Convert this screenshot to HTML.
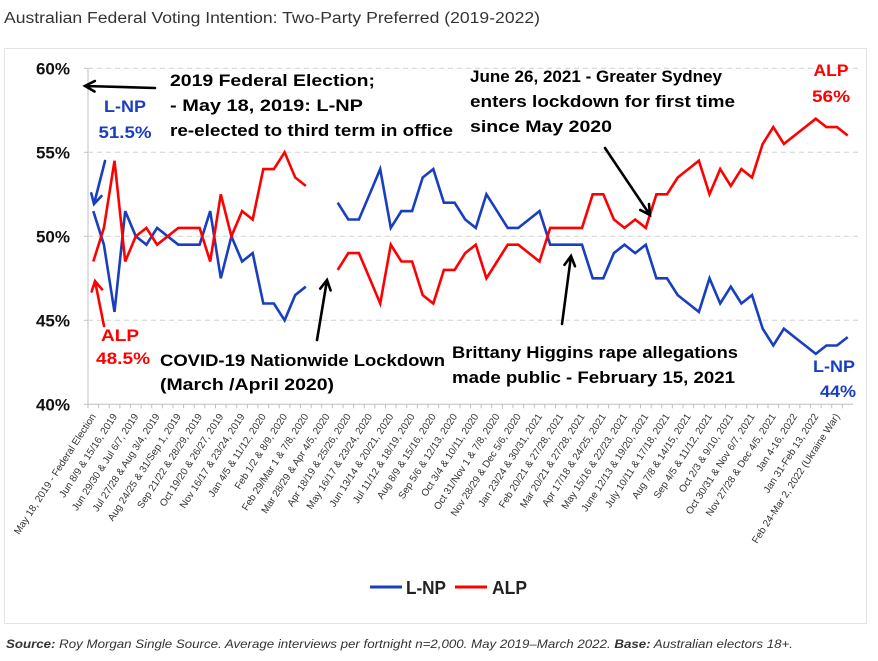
<!DOCTYPE html>
<html><head><meta charset="utf-8"><style>
html,body{margin:0;padding:0;background:#fff}
svg{display:block;font-family:"Liberation Sans",sans-serif}
</style></head><body>
<svg id="chart" width="878" height="661" viewBox="0 0 878 661">
<text x="4" y="23" font-size="15.5" fill="#333" textLength="536" lengthAdjust="spacingAndGlyphs">Australian Federal Voting Intention: Two-Party Preferred (2019-2022)</text>
<rect x="4.5" y="48.5" width="862" height="575" fill="none" stroke="#e3e3e3"/>
<g id="grid"></g>
<g id="xaxis"></g>
<g id="series"></g>
<g id="arrows"></g>
<g font-weight="bold" font-size="17">
<text x="170" y="86" textLength="205" lengthAdjust="spacingAndGlyphs">2019 Federal Election;</text>
<text x="170" y="111" textLength="193" lengthAdjust="spacingAndGlyphs">- May 18, 2019: L-NP</text>
<text x="170" y="136" textLength="283" lengthAdjust="spacingAndGlyphs">re-elected to third term in office</text>
<text x="125" y="112" fill="#1a3ec0" text-anchor="middle" textLength="42" lengthAdjust="spacingAndGlyphs">L-NP</text>
<text x="125" y="138" fill="#1a3ec0" text-anchor="middle" textLength="53" lengthAdjust="spacingAndGlyphs">51.5%</text>
<text x="120" y="341" fill="#ff0000" text-anchor="middle" textLength="38" lengthAdjust="spacingAndGlyphs">ALP</text>
<text x="123" y="364" fill="#ff0000" text-anchor="middle" textLength="54" lengthAdjust="spacingAndGlyphs">48.5%</text>
<text x="160" y="366" textLength="285" lengthAdjust="spacingAndGlyphs">COVID-19 Nationwide Lockdown</text>
<text x="160" y="390" textLength="174" lengthAdjust="spacingAndGlyphs">(March /April 2020)</text>
<text x="470" y="82" textLength="252" lengthAdjust="spacingAndGlyphs">June 26, 2021 - Greater Sydney</text>
<text x="470" y="107" textLength="265" lengthAdjust="spacingAndGlyphs">enters lockdown for first time</text>
<text x="470" y="132" textLength="142" lengthAdjust="spacingAndGlyphs">since May 2020</text>
<text x="452" y="358" textLength="286" lengthAdjust="spacingAndGlyphs">Brittany Higgins rape allegations</text>
<text x="452" y="383" textLength="283" lengthAdjust="spacingAndGlyphs">made public - February 15, 2021</text>
<text x="831" y="76" fill="#ff0000" text-anchor="middle" textLength="35" lengthAdjust="spacingAndGlyphs">ALP</text>
<text x="831" y="102" fill="#ff0000" text-anchor="middle" textLength="38" lengthAdjust="spacingAndGlyphs">56%</text>
<text x="834" y="372" fill="#1a3ec0" text-anchor="middle" textLength="42" lengthAdjust="spacingAndGlyphs">L-NP</text>
<text x="838" y="397" fill="#1a3ec0" text-anchor="middle" textLength="36" lengthAdjust="spacingAndGlyphs">44%</text>
</g>
<g font-weight="bold" font-size="18">
<g>
<line x1="370" y1="587" x2="402" y2="587" stroke="#1a3ec0" stroke-width="3"/>
<text x="406" y="594" fill="#222" textLength="40" lengthAdjust="spacingAndGlyphs">L-NP</text>
</g>
<g>
<line x1="455" y1="587" x2="487" y2="587" stroke="#ff0000" stroke-width="3"/>
<text x="492" y="594" fill="#222" textLength="35" lengthAdjust="spacingAndGlyphs">ALP</text>
</g>
</g>
<text x="6" y="648" font-size="12" font-style="italic" fill="#333" textLength="787" lengthAdjust="spacingAndGlyphs"><tspan font-weight="bold">Source:</tspan> Roy Morgan Single Source. Average interviews per fortnight n=2,000. May 2019–March 2022. <tspan font-weight="bold">Base:</tspan> Australian electors 18+.</text>
</svg>
<script>
const NS="http://www.w3.org/2000/svg";
const categories=["May 18, 2019 - Federal Election","","Jun 8/9 & 15/16, 2019","","Jun 29/30 & Jul 6/7, 2019","","Jul 27/28 & Aug 3/4, 2019","","Aug 24/25 & 31/Sep 1, 2019","","Sep 21/22 & 28/29, 2019","","Oct 19/20 & 26/27, 2019","","Nov 16/17 & 23/24, 2019","","Jan 4/5 & 11/12, 2020","","Feb 1/2 & 8/9, 2020","","Feb 29/Mar 1 & 7/8, 2020","","Mar 28/29 & Apr 4/5, 2020","","Apr 18/19 & 25/26, 2020","","May 16/17 & 23/24, 2020","","Jun 13/14 & 20/21, 2020","","Jul 11/12 & 18/19, 2020","","Aug 8/9 & 15/16, 2020","","Sep 5/6 & 12/13, 2020","","Oct 3/4 & 10/11, 2020","","Oct 31/Nov 1 & 7/8, 2020","","Nov 28/29 & Dec 5/6, 2020","","Jan 23/24 & 30/31, 2021","","Feb 20/21 & 27/28, 2021","","Mar 20/21 & 27/28, 2021","","Apr 17/18 & 24/25, 2021","","May 15/16 & 22/23, 2021","","June 12/13 & 19/20, 2021","","July 10/11 & 17/18, 2021","","Aug 7/8 & 14/15, 2021","","Sep 4/5 & 11/12, 2021","","Oct 2/3 & 9/10, 2021","","Oct 30/31 & Nov 6/7, 2021","","Nov 27/28 & Dec 4/5, 2021","","Jan 4-16, 2022","","Jan 31-Feb 13, 2022","","Feb 24-Mar 2, 2022 (Ukraine War)",""];
const lnpValues=[51.5,49.5,45.5,51.5,50,49.5,50.5,50,49.5,49.5,49.5,51.5,47.5,50,48.5,49,46,46,45,46.5,47,null,null,52,51,51,52.5,54,50.5,51.5,51.5,53.5,54,52,52,51,50.5,52.5,51.5,50.5,50.5,51,51.5,49.5,49.5,49.5,49.5,47.5,47.5,49,49.5,49,49.5,47.5,47.5,46.5,46,45.5,47.5,46,47,46,46.5,44.5,43.5,44.5,44,43.5,43,43.5,43.5,44];
const alpValues=[48.5,50.5,54.5,48.5,50,50.5,49.5,50,50.5,50.5,50.5,48.5,52.5,50,51.5,51,54,54,55,53.5,53,null,null,48,49,49,47.5,46,49.5,48.5,48.5,46.5,46,48,48,49,49.5,47.5,48.5,49.5,49.5,49,48.5,50.5,50.5,50.5,50.5,52.5,52.5,51,50.5,51,50.5,52.5,52.5,53.5,54,54.5,52.5,54,53,54,53.5,55.5,56.5,55.5,56,56.5,57,56.5,56.5,56];
const yTicks=[40,45,50,55,60];

const X0=93.3,DX=10.625,Y50=236.3,PPU=16.8;
const xPos=i=>X0+i*DX;
const yPos=v=>Y50-(v-50)*PPU;
function mk(tag,attrs,parent){const e=document.createElementNS(NS,tag);for(const k in attrs)e.setAttribute(k,attrs[k]);parent.appendChild(e);return e;}

const grid=document.getElementById('grid');
mk('line',{x1:88,y1:yPos(60),x2:88,y2:yPos(40),stroke:'#bfbfbf','stroke-width':1},grid);
yTicks.forEach(t=>{
  const y=yPos(t);
  if(t>40){const g=mk('line',{x1:88,y1:y,x2:858,y2:y,stroke:'#d0d0d0','stroke-width':1,'stroke-dasharray':'5,4'},grid);
  
  }
  mk('line',{x1:84,y1:y,x2:88,y2:y,stroke:'#bfbfbf'},grid);
  const tx=mk('text',{x:70,y:y+6,'text-anchor':'end','font-size':17,'font-weight':'bold',fill:'#111'},grid);
  tx.textContent=t+'%';
  
  
});

const xa=document.getElementById('xaxis');
const base=yPos(40);
mk('line',{x1:88,y1:base,x2:853,y2:base,stroke:'#bfbfbf'},xa);
categories.forEach((c,i)=>{
  const x=xPos(i);
  mk('line',{x1:x-DX/2,y1:base,x2:x-DX/2,y2:base+4,stroke:'#bfbfbf'},xa);
  if(c){
    const t=mk('text',{x:x+3,y:base+12,'text-anchor':'end','font-size':10,fill:'#333',transform:`rotate(-57 ${x+3} ${base+12})`},xa);
    t.textContent=c;
    
    
  }
});

const ser=document.getElementById('series');
function drawSeries(vals,color,name){
  let d='',pen=false;
  vals.forEach((v,i)=>{
    if(v===null){pen=false;return;}
    d+=(pen?'L':'M')+xPos(i).toFixed(1)+','+yPos(v).toFixed(1);
    pen=true;
  });
  const p=mk('path',{d:d,fill:'none',stroke:color,'stroke-width':2.6,'stroke-linejoin':'miter'},ser);
  
  
}
drawSeries(lnpValues,'#1a3ec0','lnp-line');
drawSeries(alpValues,'#ff0000','alp-line');

const ar=document.getElementById('arrows');
function arrow(x1,y1,x2,y2,color,name){
  const a=Math.atan2(y2-y1,x2-x1),L=11,w=0.5;
  const p1=[x2-L*Math.cos(a-w),y2-L*Math.sin(a-w)],p2=[x2-L*Math.cos(a+w),y2-L*Math.sin(a+w)];
  const g=mk('path',{d:`M${x1},${y1}L${x2},${y2}M${p1[0]},${p1[1]}L${x2},${y2}L${p2[0]},${p2[1]}`,fill:'none',stroke:color,'stroke-width':2.6,'stroke-linecap':'round','stroke-linejoin':'miter'},ar);
  
  
}
arrow(155,88,85,86,'#000','election-arrow');
arrow(105,161,94,204,'#1a3ec0','lnp-start-arrow');
arrow(104,326,95,281,'#ff0000','alp-start-arrow');
arrow(317,340,327,280,'#000','covid-arrow');
arrow(605,148,650,215,'#000','sydney-arrow');
arrow(562,324,571,256,'#000','higgins-arrow');
</script>
</body></html>
